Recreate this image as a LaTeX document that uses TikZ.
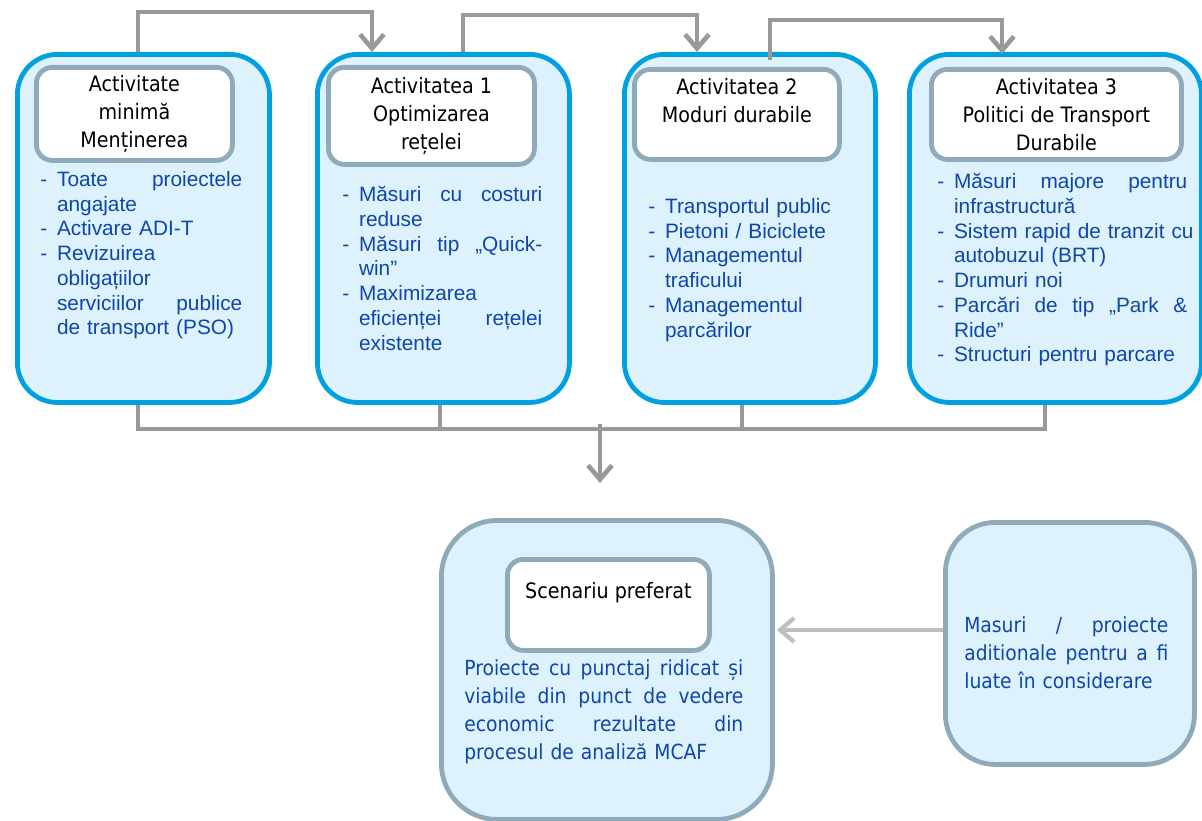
\documentclass[tikz,border=0pt]{standalone}
\usepackage{fontspec}
\setmainfont{Liberation Sans}
\newfontfamily\tahoma[FakeStretch=0.9]{DejaVu Sans}
\usetikzlibrary{calc}
\usetikzlibrary{arrows.meta}
\definecolor{boxblue}{RGB}{0,160,225}
\definecolor{fillblue}{RGB}{221,242,253}
\definecolor{greyblue}{RGB}{143,170,185}
\definecolor{textblue}{RGB}{14,70,170}
\definecolor{conngrey}{RGB}{153,153,153}
\definecolor{lightgrey}{RGB}{191,191,191}
\newcommand{\litem}{\makebox[0.42cm][l]{-}}
\newcommand{\lcont}{\hspace*{0.42cm}}

\begin{document}
\begin{tikzpicture}[x=0.025cm,y=-0.025cm,
    >={Straight Barb[length=10pt,width=17pt]},
    outer/.style={draw=boxblue,line width=3.4pt,fill=fillblue,rounded corners=1cm,anchor=north west},
    outergrey/.style={outer,draw=greyblue,rounded corners=1.4cm},
    head/.style={draw=greyblue,line width=3.4pt,fill=white,rounded corners=0.4cm,anchor=north west,
        align=center,inner sep=0pt,font=\tahoma\fontsize{15.1}{19.9}\selectfont},
    list/.style={anchor=north west,inner sep=0pt,align=left,text=textblue,font=\fontsize{14.8}{17.6}\selectfont},
    note/.style={anchor=north west,inner sep=0pt,align=left,text=textblue,font=\tahoma\fontsize{14.8}{19.9}\selectfont},
    conn/.style={draw=conngrey,line width=3.3pt}]
    \useasboundingbox (0,0) rectangle (1202,821);
    % the four activities
    \node[outer,minimum width=6.3cm,minimum height=8.7cm] (a0) at (15,52) {};
    \node[outer,minimum width=6.3cm,minimum height=8.7cm] (a1) at (315,52) {};
    \node[outer,minimum width=6.275cm,minimum height=8.7cm] (a2) at (622,52) {};
    \node[outer,minimum width=7.3cm,minimum height=8.7cm] (a3) at (907,52) {};
    \node[head,minimum width=4.9cm,minimum height=2.325cm] (h0) at (34,65) {Activitate\\minimă\\Menținerea};
    \node[head,minimum width=5.15cm,minimum height=2.425cm] (h1) at (326,65) {Activitatea 1\\Optimizarea\\rețelei};
    \node[head,minimum width=5.125cm,minimum height=2.25cm] (h2) at (632,67) {Activitatea 2\\Moduri durabile\\\mbox{}};
    \node[head,minimum width=6.25cm,minimum height=2.25cm] (h3) at (929,67) {Activitatea 3\\Politici de Transport\\Durabile};
    \node[list,text width=5.05cm] (l0) at (40,171) {\litem Toate \hfill proiectele\\ \lcont angajate\\
        \litem Activare ADI-T\\ \litem Revizuirea\\ \lcont obligațiilor\\ \lcont serviciilor \hfill publice\\
        \lcont de transport (PSO)};
    \node[list,text width=5.0cm] (l1) at (342,186) {\litem Măsuri \hfill cu \hfill costuri\\ \lcont reduse\\
        \litem Măsuri \hfill tip \hfill „Quick-\\ \lcont win”\\ \litem Maximizarea\\
        \lcont eficienței \hfill rețelei\\ \lcont existente};
    \node[list,text width=5.0cm] (l2) at (648,198) {\litem Transportul public\\ \litem Pietoni / Biciclete\\
        \litem Managementul\\ \lcont traficului\\ \litem Managementul\\ \lcont parcărilor};
    \node[list,text width=6.25cm] (l3) at (937,173) {\litem Măsuri \hfill majore \hfill pentru\\ \lcont infrastructură\\
        \litem\makebox[5.83cm][s]{Sistem rapid de tranzit cu}\\ \lcont autobuzul (BRT)\\ \litem Drumuri noi\\
        \litem Parcări \hfill de \hfill tip \hfill „Park \hfill \&\\ \lcont Ride”\\ \litem Structuri pentru parcare};
    % preferred scenario and extra measures
    \node[outergrey,minimum width=8.275cm,minimum height=7.475cm] (s) at (439,518) {};
    \node[head,minimum width=5.05cm,minimum height=2.275cm] (sh) at (505,557) {Scenariu preferat\\\mbox{}};
    \node[note,text width=6.975cm] (st) at (464,659) {Proiecte \hfill cu \hfill punctaj \hfill ridicat \hfill și\\
        viabile \hfill din \hfill punct \hfill de \hfill vedere\\ economic \hfill rezultate \hfill din\\
        procesul de analiză MCAF};
    \node[outergrey,rounded corners=1.25cm,minimum width=6.225cm,minimum height=6.05cm] (m) at (943,520) {};
    \node[note,text width=5.1cm] (mt) at (964,616) {Masuri \hfill / \hfill proiecte\\
        aditionale \hfill pentru \hfill a \hfill fi\\ luate în considerare};
    % links on top
    \draw[conn,->] ($(a0.north west)+(123,0)$) -- ++(0,-40) -| ($(a1.north west)+(57,0)$);
    \draw[conn,->] ($(a1.north west)+(148,0)$) -- ++(0,-37) -| ($(a2.north west)+(75,0)$);
    \draw[conn,->] ($(a2.north west)+(148,8)$) -- ++(0,-40) -| ($(a3.north west)+(95,2)$);
    % links below
    \foreach \n/\dx in {a0/123,a1/125,a2/120,a3/138}
        \draw[conn] ($(\n.south west)+(\dx,0)$) -- ++(0,24);
    \draw[conn,line cap=rect] ($(a0.south west)+(123,24)$) -- ($(a3.south west)+(138,24)$);
    \coordinate (merge) at (600,424);
    \draw[conn,->] (merge) -- ++(0,59);
    \draw[conn,draw=lightgrey,line width=3pt,->] ($(m.north west)+(0,110)$) -- ($(s.north east)+(2,112)$);
\end{tikzpicture}
\end{document}
